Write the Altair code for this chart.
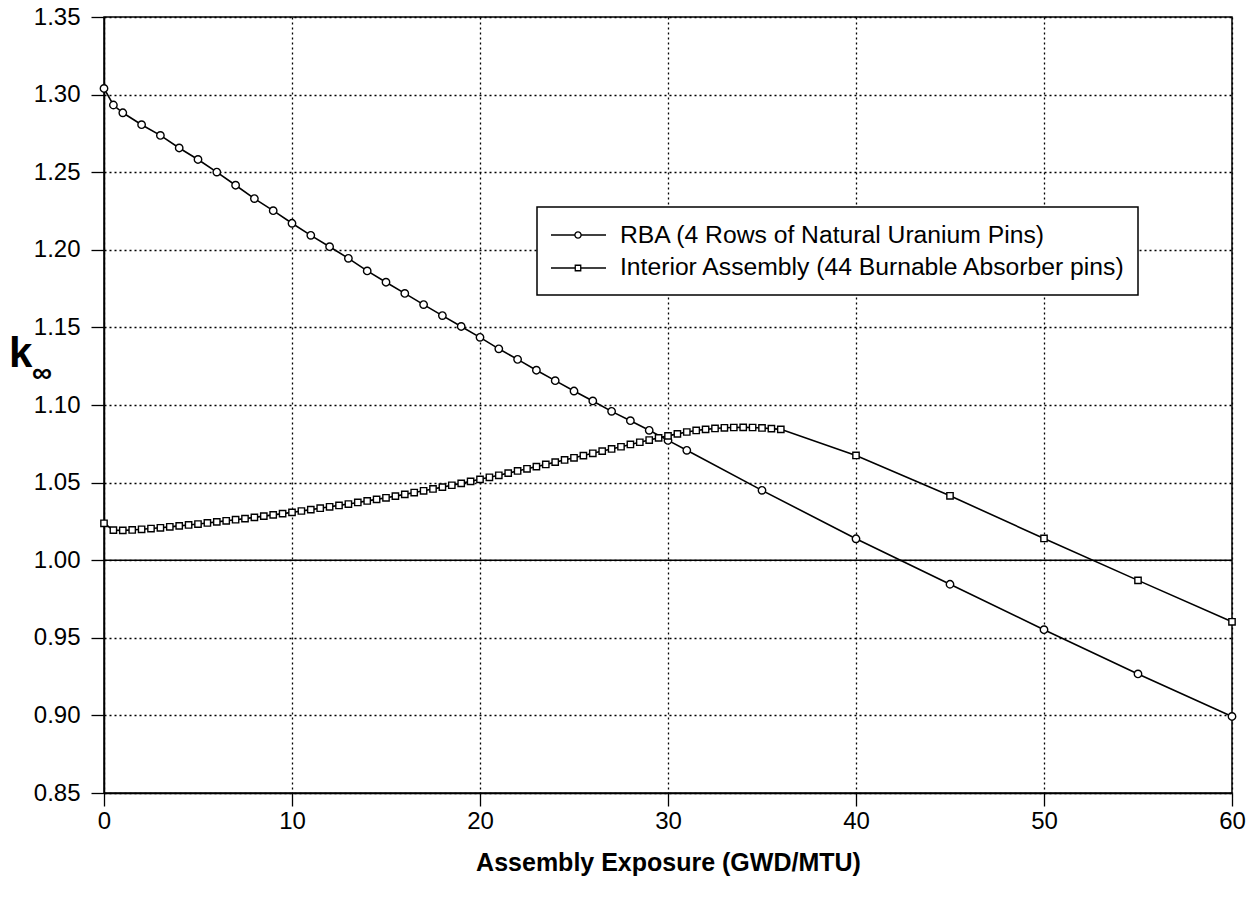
import altair as alt
import pandas as pd

FONT = "Liberation Sans"

# ---- data ----
rba_x = [0, 0.5, 1, 2, 3, 4, 5, 6, 7, 8, 9, 10, 11, 12, 13, 14, 15, 16, 17, 18, 19,
         20, 21, 22, 23, 24, 25, 26, 27, 28, 29, 30, 31, 35, 40, 45, 50, 55, 60]
rba_k = [1.3040, 1.2933, 1.2883, 1.2806, 1.2737, 1.2656, 1.2582, 1.2501, 1.2416, 1.2330,
         1.2252, 1.2171, 1.2093, 1.2020, 1.1945, 1.1864, 1.1791, 1.1719, 1.1647, 1.1576,
         1.1506, 1.1436, 1.1362, 1.1294, 1.1224, 1.1157, 1.1090, 1.1026, 1.0959, 1.0899,
         1.0837, 1.0772, 1.0708, 1.0450, 1.0138, 0.9845, 0.9552, 0.9267, 0.8993]

int_x = [0, 0.5, 1, 1.5, 2, 2.5, 3, 3.5, 4, 4.5, 5, 5.5, 6, 6.5, 7, 7.5, 8, 8.5, 9, 9.5,
         10, 10.5, 11, 11.5, 12, 12.5, 13, 13.5, 14, 14.5, 15, 15.5, 16, 16.5, 17, 17.5,
         18, 18.5, 19, 19.5, 20, 20.5, 21, 21.5, 22, 22.5, 23, 23.5, 24, 24.5, 25, 25.5,
         26, 26.5, 27, 27.5, 28, 28.5, 29, 29.5, 30, 30.5, 31, 31.5, 32, 32.5, 33, 33.5,
         34, 34.5, 35, 35.5, 36, 40, 45, 50, 55, 60]
int_k = [1.0238, 1.0194, 1.0192, 1.0195, 1.0199, 1.0204, 1.0209, 1.0215, 1.0221, 1.0227,
         1.0233, 1.0240, 1.0247, 1.0254, 1.0261, 1.0268, 1.0276, 1.0284, 1.0292, 1.0300,
         1.0308, 1.0317, 1.0326, 1.0335, 1.0344, 1.0353, 1.0362, 1.0372, 1.0382, 1.0392,
         1.0402, 1.0413, 1.0424, 1.0436, 1.0447, 1.0459, 1.0471, 1.0483, 1.0495, 1.0508,
         1.0521, 1.0534, 1.0547, 1.0561, 1.0575, 1.0589, 1.0603, 1.0617, 1.0632, 1.0646,
         1.0660, 1.0674, 1.0689, 1.0703, 1.0717, 1.0731, 1.0746, 1.0760, 1.0774, 1.0788,
         1.0801, 1.0814, 1.0826, 1.0836, 1.0843, 1.0849, 1.0853, 1.0855, 1.0856, 1.0855,
         1.0852, 1.0848, 1.0843, 1.0675, 1.0415, 1.0140, 0.9870, 0.9603]

x_ticks = [0, 10, 20, 30, 40, 50, 60]
y_ticks = [0.85, 0.90, 0.95, 1.00, 1.05, 1.10, 1.15, 1.20, 1.25, 1.30, 1.35]
legend_labels = ["RBA (4 Rows of Natural Uranium Pins)",
                 "Interior Assembly (44 Burnable Absorber pins)"]
x_title = "Assembly Exposure (GWD/MTU)"

rba = pd.DataFrame({"x": rba_x, "k": rba_k})
inter = pd.DataFrame({"x": int_x, "k": int_k})
one = pd.DataFrame({"d": [0]})

xs = alt.Scale(domain=[0, 60], nice=False, zero=False)
ys = alt.Scale(domain=[0.85, 1.35], nice=False, zero=False)

grid_style = dict(grid=True, gridDash=[2, 3], gridColor="black", gridWidth=1.3,
                  gridOpacity=1, domainColor="black", domainWidth=1.5,
                  tickColor="black", tickSize=13, tickWidth=1.3,
                  labelFont=FONT, labelFontSize=24, labelColor="black")

X = alt.X("x:Q", scale=xs,
          axis=alt.Axis(values=x_ticks, format="d", title=x_title, labelPadding=3,
                        labelFlush=False, titleFont=FONT, titleFontSize=25,
                        titleFontWeight="bold", titleColor="black", titlePadding=17,
                        **grid_style))
Y = alt.Y("k:Q", scale=ys,
          axis=alt.Axis(values=y_ticks, format=".2f", title=None, labelPadding=11,
                        **grid_style))

line_rba = alt.Chart(rba).mark_line(color="black", strokeWidth=1.6).encode(x=X, y=Y)
line_int = alt.Chart(inter).mark_line(color="black", strokeWidth=1.6).encode(x=X, y=Y)
unity = alt.Chart(one).mark_rule(color="black", strokeWidth=1.6).encode(y=alt.datum(1.0))
pts_rba = alt.Chart(rba).mark_point(shape="circle", filled=True, fill="white", stroke="black",
                                     strokeWidth=1.4, size=55, opacity=1).encode(x=X, y=Y)
pts_int = alt.Chart(inter).mark_point(shape="square", filled=True, fill="white", stroke="black",
                                       strokeWidth=1.4, size=40, opacity=1).encode(x=X, y=Y)

# legend box (drawn by hand to reproduce line+marker symbols)
leg_box = alt.Chart(one).mark_rect(fill="white", stroke="black", strokeWidth=1.5).encode(
    x=alt.value(433), x2=alt.value(1034), y=alt.value(190), y2=alt.value(278))
leg_line1 = alt.Chart(one).mark_rule(color="black", strokeWidth=1.4).encode(
    x=alt.value(447), x2=alt.value(502), y=alt.value(218))
leg_line2 = alt.Chart(one).mark_rule(color="black", strokeWidth=1.4).encode(
    x=alt.value(447), x2=alt.value(502), y=alt.value(251))
leg_pt1 = alt.Chart(one).mark_point(shape="circle", filled=True, fill="white", stroke="black",
                                    strokeWidth=1.3, size=38, opacity=1).encode(
    x=alt.value(474), y=alt.value(218))
leg_pt2 = alt.Chart(one).mark_point(shape="square", filled=True, fill="white", stroke="black",
                                    strokeWidth=1.3, size=30, opacity=1).encode(
    x=alt.value(474), y=alt.value(251))
leg_t1 = alt.Chart(one).mark_text(align="left", baseline="alphabetic", font=FONT, fontSize=24.7,
                                  color="black").encode(
    x=alt.value(516), y=alt.value(226), text=alt.value(legend_labels[0]))
leg_t2 = alt.Chart(one).mark_text(align="left", baseline="alphabetic", font=FONT, fontSize=24.7,
                                  color="black").encode(
    x=alt.value(516), y=alt.value(258), text=alt.value(legend_labels[1]))

# y-axis title k with subscript infinity
k_main = alt.Chart(one).mark_text(align="left", baseline="alphabetic", font=FONT, fontSize=42,
                                  fontWeight="bold", color="black").encode(
    x=alt.value(-95), y=alt.value(350), text=alt.value("k"))
k_sub = alt.Chart(one).mark_text(align="center", baseline="middle", font=FONT, fontSize=28,
                                 fontWeight="bold", color="black").encode(
    x=alt.value(-62), y=alt.value(357), text=alt.value("\u221e"))

chart = alt.layer(
    line_rba, line_int, unity, pts_rba, pts_int,
    leg_box, leg_line1, leg_line2, leg_pt1, leg_pt2, leg_t1, leg_t2,
    k_main, k_sub
).properties(
    width=1128, height=776,
    padding={"left": 104, "top": 17, "right": 21, "bottom": 105},
    autosize=alt.AutoSizeParams(type="none"),
    background="white",
).configure_view(stroke="black", strokeWidth=1.5)

chart.save("out.html", embed_options={"renderer": "svg", "actions": False})
